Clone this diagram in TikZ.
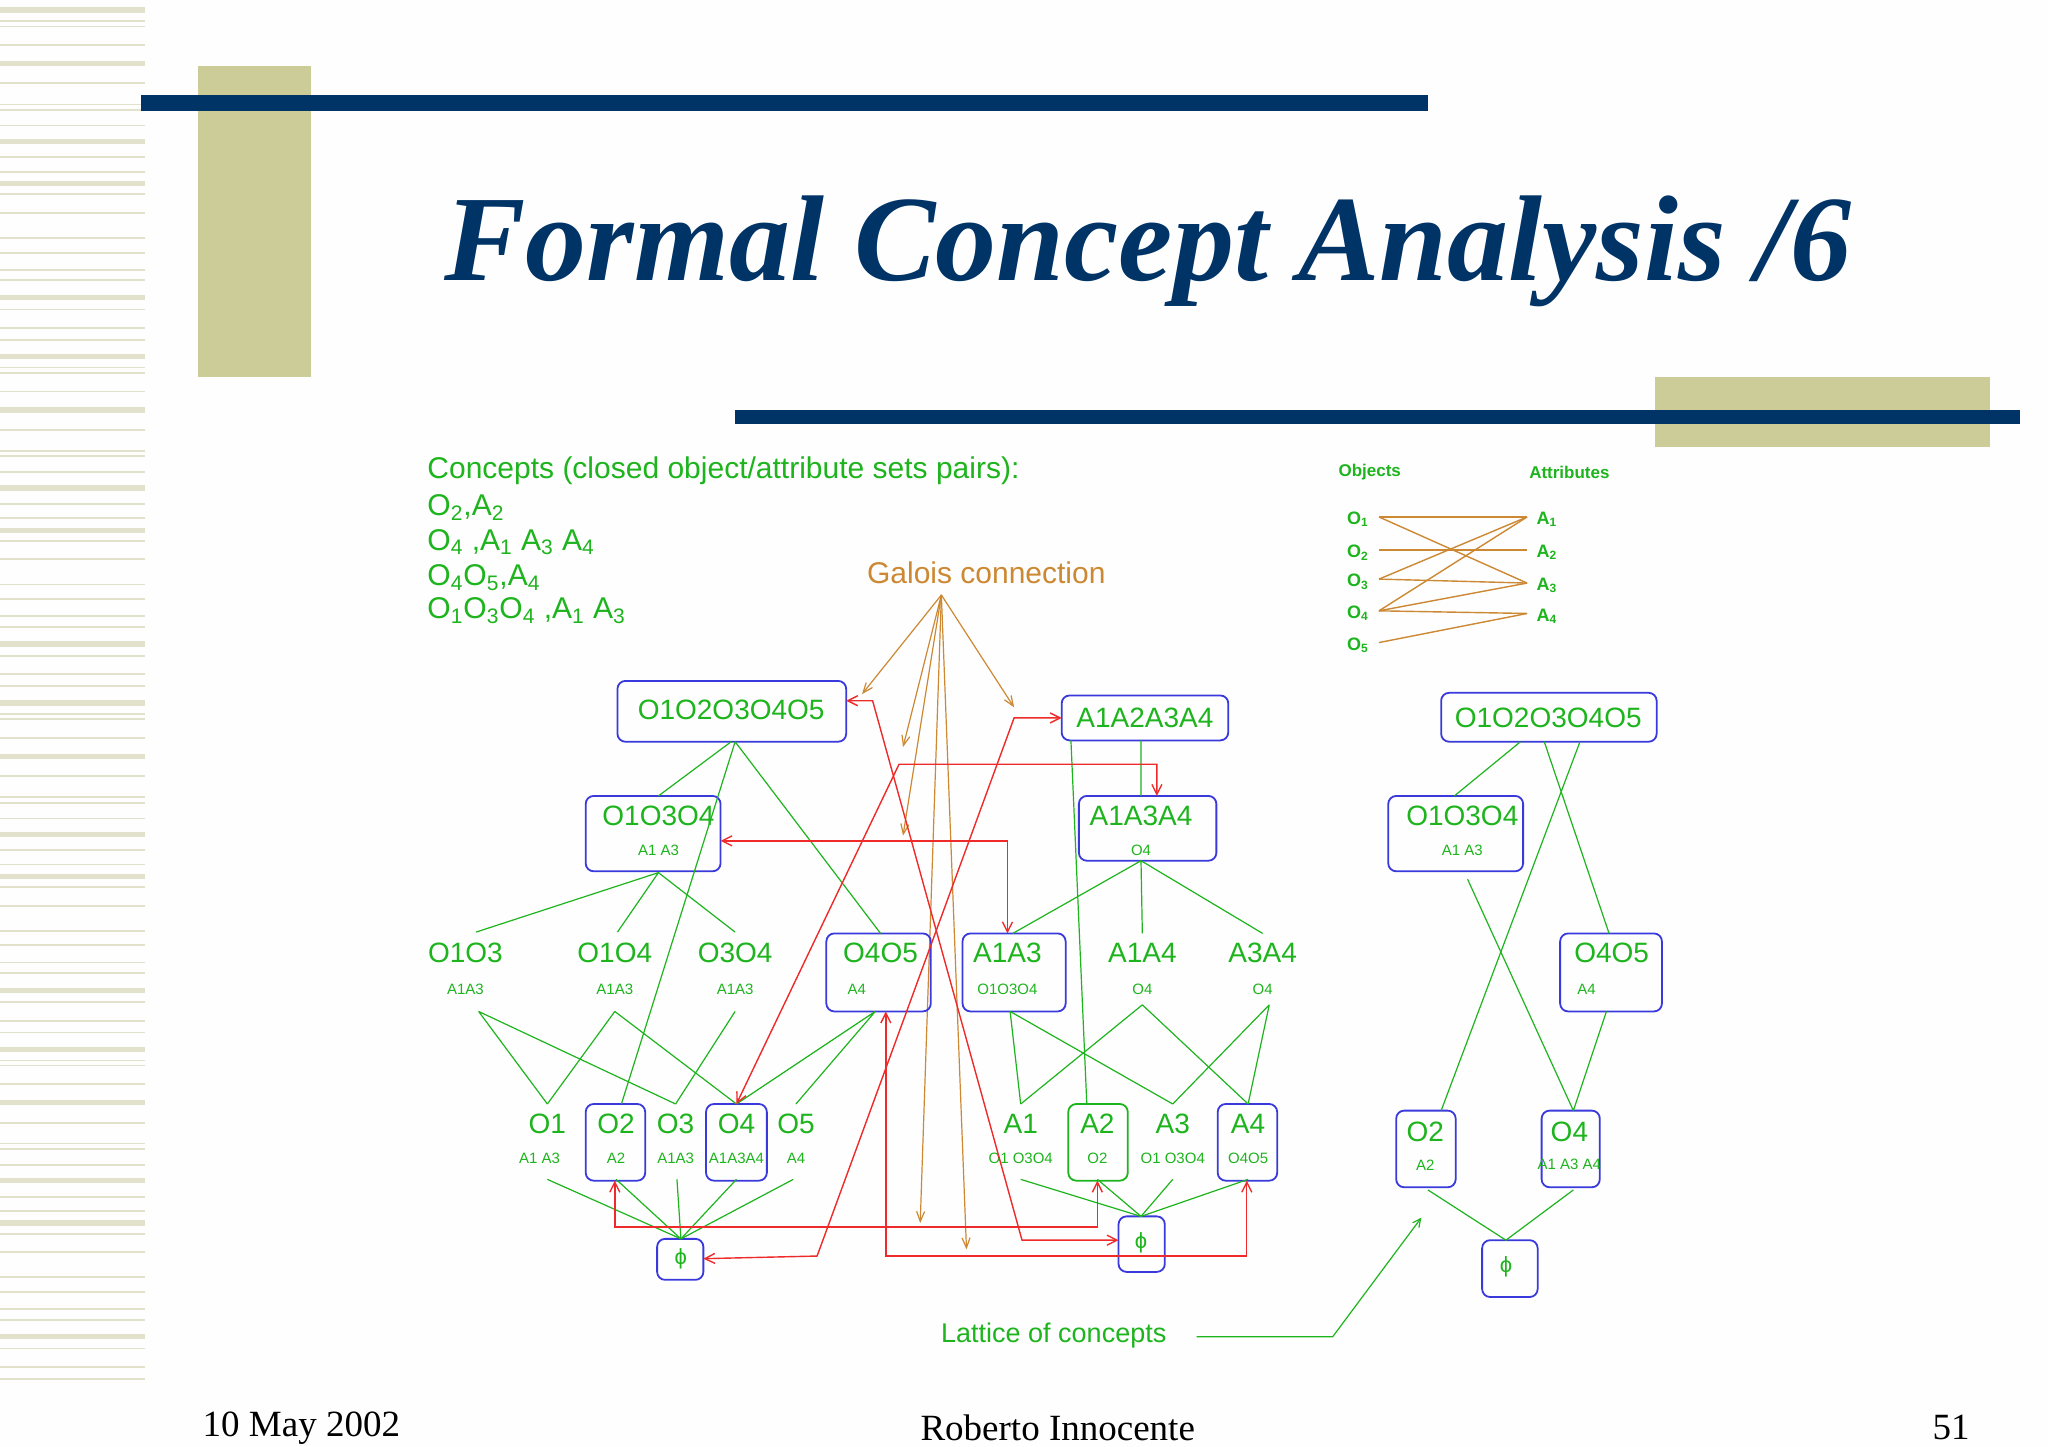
\documentclass[tikz,border=0pt]{standalone}
\usepackage{fontspec}
\setmainfont{Liberation Serif}
\newfontfamily\sans{Liberation Sans}
\usetikzlibrary{arrows.meta}
\definecolor{navy}{HTML}{003366}
\definecolor{khaki}{HTML}{CCCC99}
\definecolor{stripe}{HTML}{E2E2CC}
\definecolor{lg}{HTML}{1EB41E}
\definecolor{bb}{HTML}{3A3ADC}
\definecolor{rr}{HTML}{EE2A2A}
\definecolor{oo}{HTML}{CC8833}
\tikzset{
  box/.style={draw=bb,rounded corners=4pt,line width=0.9pt},
  gbox/.style={draw=lg,rounded corners=4pt,line width=0.9pt},
  gl/.style={draw=lg,line width=0.6pt},
  rl/.style={draw=rr,line width=0.7pt,{Straight Barb[length=5pt,width=5pt]}-{Straight Barb[length=5pt,width=5pt]}},
  ol/.style={draw=oo,line width=0.6pt,-{Straight Barb[length=5pt,width=4pt]}},
  big/.style={text=lg,font=\sans\fontsize{14}{16}\selectfont,inner sep=0pt},
  small/.style={text=lg,font=\sans\fontsize{7.5}{9}\selectfont,inner sep=0pt},
  txt/.style={text=lg,font=\sans\fontsize{15}{17}\selectfont,inner sep=0pt,anchor=west},
  foot/.style={font=\fontsize{18.5}{20}\selectfont,inner sep=0pt}
}
\begin{document}
\begin{tikzpicture}[x=0.661pt,y=-0.661pt]
\useasboundingbox (0,0) rectangle (1549,1094.4);
\fill[white!99!khaki] (0,0) rectangle (1549,1094.4);
% stripes
\foreach \o in {0,262,524,786}{
  \foreach \y/\w in {7.6/4,16/1.2,20/1.2,34/1.2,48/4,63/1.5,79/1.2,83/1.5,95/1.2,107/4,119/1.5,130/1.2,139/4,147/1.5,161/1.5,180/1.2,191/1.5,204/1.2,212/1.5,225/4,234/1.2,248/1.5,257/1.2}{
    \pgfmathsetmacro\yy{\y+\o}
    \ifdim\yy pt<1094pt \fill[stripe] (0,\yy-\w/2) rectangle (110,\yy+\w/2);\fi
  }
}
% decorations
\fill[khaki] (150,50) rectangle (235,285);
\fill[navy] (107,72) rectangle (1080,84);
\fill[khaki] (1252,285) rectangle (1505,338);
\fill[navy] (556,310) rectangle (1528,321);
\node[text=navy,font=\bfseries\itshape\fontsize{61}{64}\selectfont,inner sep=0pt] (title) at (868,190) {Formal Concept Analysis /6};
% footer
\node[foot,anchor=west] (date) at (153,1080) {10 May 2002};
\node[foot] (auth) at (800,1080) {Roberto Innocente};
\node[foot,anchor=east] (pg) at (1490,1080) {51};
% concept list
\node[txt] (c0) at (323,356) {Concepts (closed object/attribute sets pairs):};
\node[txt] (c1) at (323,384) {O\textsubscript{2},A\textsubscript{2}};
\node[txt] (c2) at (323,410) {O\textsubscript{4} ,A\textsubscript{1} A\textsubscript{3} A\textsubscript{4}};
\node[txt] (c3) at (323,437) {O\textsubscript{4}O\textsubscript{5},A\textsubscript{4}};
\node[txt] (c4) at (323,462) {O\textsubscript{1}O\textsubscript{3}O\textsubscript{4} ,A\textsubscript{1} A\textsubscript{3}};
% objects/attributes panel
\node[text=lg,font=\sans\bfseries\fontsize{8.5}{10}\selectfont] (objs) at (1036,357) {Objects};
\node[text=lg,font=\sans\bfseries\fontsize{8.5}{10}\selectfont] (atts) at (1187,357) {Attributes};
\foreach \i/\y in {1/393,2/418,3/440,4/464,5/488}{
  \node[text=lg,font=\sans\bfseries\fontsize{9}{10}\selectfont] (o\i) at (1027,\y) {O\textsubscript{\i}};
  \coordinate (po\i) at (1043,\y-2);}
\foreach \i/\y in {1/393,2/418,3/443,4/466}{
  \node[text=lg,font=\sans\bfseries\fontsize{9}{10}\selectfont] (a\i) at (1170,\y) {A\textsubscript{\i}};
  \coordinate (pa\i) at (1155,\y-2);}
\foreach \p/\q in {1/1,1/3,2/2,3/1,3/3,4/1,4/3,4/4,5/4}{
  \draw[oo,line width=0.7pt] (po\p) -- (pa\q);}
% Galois
\node[text=oo,font=\sans\fontsize{15}{17}\selectfont] (gal) at (746,433) {Galois connection};
\coordinate (gapex) at (712,450);
\foreach \t in {(652,525),(683,565),(683,632),(767,535),(696,925),(731,945)}{
  \draw[ol] (gapex) -- \t;}
% ---- left lattice boxes
\draw[box] (467,515) rectangle (640,561);
\node[big] (top) at (553,537) {O1O2O3O4O5};
\draw[box] (803,526) rectangle (929,560);
\node[big] (atop) at (866,543) {A1A2A3A4};
\draw[box] (443,602) rectangle (545,659);
\node[big] (o134) at (498,617) {O1O3O4}; \node[small] at (498,643) {A1 A3};
\draw[box] (816,602) rectangle (920,651);
\node[big] (a134) at (863,617) {A1A3A4}; \node[small] at (863,643) {O4};
\node[big] (o13) at (352,721) {O1O3}; \node[small] at (352,748) {A1A3};
\node[big] (o14) at (465,721) {O1O4}; \node[small] at (465,748) {A1A3};
\node[big] (o34) at (556,721) {O3O4}; \node[small] at (556,748) {A1A3};
\draw[box] (625,706) rectangle (704,765);
\node[big] (o45) at (666,721) {O4O5}; \node[small] at (648,748) {A4};
\draw[box] (728,706) rectangle (806,765);
\node[big] (a13) at (762,721) {A1A3}; \node[small] at (762,748) {O1O3O4};
\node[big] (a14) at (864,721) {A1A4}; \node[small] at (864,748) {O4};
\node[big] (a34) at (955,721) {A3A4}; \node[small] at (955,748) {O4};
\node[big] (o1) at (414,850) {O1}; \node[small] at (408,876) {A1 A3};
\draw[box] (443,835) rectangle (488,893);
\node[big] (o2) at (466,850) {O2}; \node[small] at (466,876) {A2};
\node[big] (o3) at (511,850) {O3}; \node[small] at (511,876) {A1A3};
\draw[box] (534,835) rectangle (580,893);
\node[big] (o4) at (557,850) {O4}; \node[small] at (557,876) {A1A3A4};
\node[big] (o5) at (602,850) {O5}; \node[small] at (602,876) {A4};
\node[big] (a1) at (772,850) {A1}; \node[small] at (772,876) {O1 O3O4};
\draw[gbox] (808,835) rectangle (853,893);
\node[big] (a2) at (830,850) {A2}; \node[small] at (830,876) {O2};
\node[big] (a3) at (887,850) {A3}; \node[small] at (887,876) {O1 O3O4};
\draw[box] (921,835) rectangle (966,893);
\node[big] (a4) at (944,850) {A4}; \node[small] at (944,876) {O4O5};
\draw[box] (497,937) rectangle (532,968);
\node[big,font=\sans\fontsize{11}{12}\selectfont] (phl) at (515,952) {ϕ};
\draw[box] (846,920) rectangle (881,962);
\node[big,font=\sans\fontsize{11}{12}\selectfont] (phr) at (863,940) {ϕ};
% green lattice lines left
\draw[gl] (553,561)--(498,602) (556,561)--(470,835) (556,561)--(666,706);
\draw[gl] (498,660)--(360,705) (498,660)--(467,705) (498,660)--(556,705);
\draw[gl] (362,765)--(414,835) (362,765)--(511,835);
\draw[gl] (465,765)--(414,835) (465,765)--(557,835);
\draw[gl] (556,765)--(511,835);
\draw[gl] (662,765)--(557,835) (662,765)--(602,835);
\foreach \x in {414,466,512,557,600}{\draw[gl] (\x,892)--(515,937);}
\draw[gl] (810,560)--(822,835) (863,560)--(863,602);
\draw[gl] (863,651)--(766,706) (863,651)--(864,706) (863,651)--(955,706);
\draw[gl] (764,765)--(772,835) (764,765)--(887,835);
\draw[gl] (864,760)--(772,835) (864,760)--(944,835);
\draw[gl] (960,760)--(887,835) (960,760)--(944,835);
\foreach \x in {772,830,887,944}{\draw[gl] (\x,892)--(863,920);}
% red connections
\draw[rl] (640,530) -- (660,530) -- (773,938) -- (846,938);
\draw[rl] (803,543) -- (767,543) -- (618,950) -- (532,952);
\draw[rl] (545,636) -- (762,636) -- (762,706);
\draw[rl] (557,835) -- (680,578) -- (875,578) -- (875,602);
\draw[rl] (670,765) -- (670,950) -- (943,950) -- (943,893);
\draw[rl] (465,893) -- (465,928) -- (830,928) -- (830,893);
% ---- right lattice
\draw[box] (1090,524) rectangle (1253,561);
\node[big] (rtop) at (1171,543) {O1O2O3O4O5};
\draw[box] (1050,602) rectangle (1152,659);
\node[big] (r134) at (1106,617) {O1O3O4}; \node[small] at (1106,643) {A1 A3};
\draw[box] (1180,706) rectangle (1257,765);
\node[big] (r45) at (1219,721) {O4O5}; \node[small] at (1200,748) {A4};
\draw[box] (1056,840) rectangle (1101,898);
\node[big] (r2) at (1078,856) {O2}; \node[small] at (1078,881) {A2};
\draw[box] (1166,840) rectangle (1210,898);
\node[big] (r4) at (1187,856) {O4}; \node[small] at (1187,881) {A1 A3 A4};
\draw[box] (1121,938) rectangle (1163,981);
\node[big,font=\sans\fontsize{11}{12}\selectfont] (rph) at (1139,958) {ϕ};
\draw[gl] (1150,561)--(1100,602) (1168,561)--(1217,706) (1195,561)--(1090,840);
\draw[gl] (1110,665)--(1190,840) (1215,765)--(1190,840);
\draw[gl] (1080,900)--(1139,938) (1190,900)--(1139,938);
% lattice label
\node[text=lg,font=\sans\fontsize{13.5}{15}\selectfont] (lat) at (797,1010) {Lattice of concepts};
\coordinate (lt) at (1075,921);
\draw[gl,-{Straight Barb[length=4pt,width=4pt]}] (905,1011) -- (1008,1011) -- (lt);
\end{tikzpicture}
\end{document}
